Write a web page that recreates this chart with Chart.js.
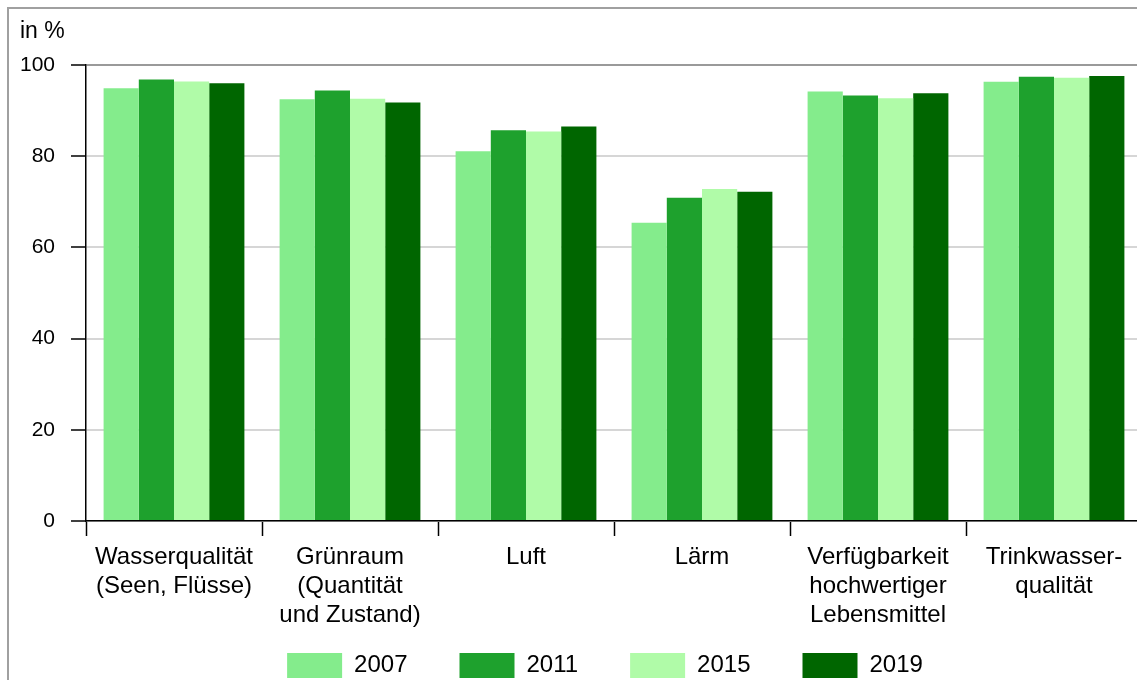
<!DOCTYPE html>
<html>
<head>
<meta charset="utf-8">
<script src="https://cdn.jsdelivr.net/npm/chart.js@4/dist/chart.umd.min.js"></script>
<style>
  html, body { margin: 0; padding: 0; background: #fff; overflow: hidden; }
  canvas { display: block; }
</style>
</head>
<body>
<canvas id="umweltChart" width="1142" height="718"></canvas>
<script>
// categories and values (in %)
const categories = [
  ['Wasserqualität', '(Seen, Flüsse)'],
  ['Grünraum', '(Quantität', 'und Zustand)'],
  'Luft',
  'Lärm',
  ['Verfügbarkeit', 'hochwertiger', 'Lebensmittel'],
  ['Trinkwasser-', 'qualität']
];
const years = ['2007', '2011', '2015', '2019'];
const values2007 = [94.9, 92.5, 81.1, 65.4, 94.2, 96.3];
const values2011 = [96.8, 94.4, 85.7, 70.9, 93.3, 97.4];
const values2015 = [96.4, 92.6, 85.4, 72.8, 92.7, 97.2];
const values2019 = [96.0, 91.8, 86.5, 72.2, 93.8, 97.6];
const yTicks = [0, 20, 40, 60, 80, 100];

const colors = ['#84ec8c', '#1ea12d', '#b0fba8', '#006600'];
const font = '"Liberation Sans", Arial, sans-serif';

// frame around the figure and the unit label
const extras = {
  id: 'extras',
  beforeDraw(chart) {
    const ctx = chart.ctx;
    ctx.save();
    ctx.strokeStyle = '#a0a0a0';
    ctx.lineWidth = 2;
    ctx.beginPath();
    ctx.moveTo(8, 718);
    ctx.lineTo(8, 8);
    ctx.lineTo(1142, 8);
    ctx.stroke();
    ctx.restore();
  },
  afterLayout(chart) {
    // place legend like in the original
    const lg = chart.legend;
    lg.left += 34;
    lg.right += 34;
    lg.top = 653 - lg.options.labels.padding;
  },
  afterDraw(chart) {
    const ctx = chart.ctx;
    ctx.save();
    ctx.fillStyle = '#000';
    ctx.font = '23px ' + font;
    ctx.textBaseline = 'alphabetic';
    ctx.fillText('in %', 20, 38);
    ctx.restore();
  }
};

const ctx = document.getElementById('umweltChart').getContext('2d');
new Chart(ctx, {
  type: 'bar',
  data: {
    labels: categories,
    datasets: [values2007, values2011, values2015, values2019].map((vals, i) => ({
      label: years[i],
      data: vals,
      backgroundColor: colors[i],
      borderWidth: 0,
      categoryPercentage: 0.8,
      barPercentage: 1
    }))
  },
  options: {
    responsive: false,
    animation: false,
    devicePixelRatio: 1,
    layout: { padding: { top: 65, left: 0, right: 0, bottom: 0 } },
    plugins: {
      tooltip: { enabled: false },
      legend: {
        position: 'bottom',
        labels: {
          boxWidth: 55,
          boxHeight: 25,
          padding: 52,
          color: '#000',
          font: { family: font, size: 24 }
        }
      }
    },
    scales: {
      x: {
        grid: {
          drawOnChartArea: false,
          drawTicks: true,
          tickLength: 15,
          tickColor: '#000',
          tickWidth: 1.5
        },
        border: { color: '#000', width: 1.5 },
        ticks: {
          color: '#000',
          padding: 7,
          maxRotation: 0,
          autoSkip: false,
          font: { family: font, size: 24, lineHeight: 1.2 }
        },
        afterFit(scale) { scale.height = 110; }
      },
      y: {
        min: 0,
        max: 100,
        afterBuildTicks(scale) { scale.ticks = yTicks.map(v => ({ value: v })); },
        grid: {
          tickLength: 15,
          tickColor: '#000',
          tickWidth: 1.5,
          lineWidth: 2,
          color: c => c.tick.value === 100 ? '#9a9a9a' : '#d6d6d6'
        },
        border: { color: '#000', width: 1.5 },
        ticks: {
          color: '#000',
          padding: 16,
          font: { family: font, size: 21 }
        },
        afterFit(scale) { scale.width = 86; }
      }
    }
  },
  plugins: [extras]
});
</script>
</body>
</html>
